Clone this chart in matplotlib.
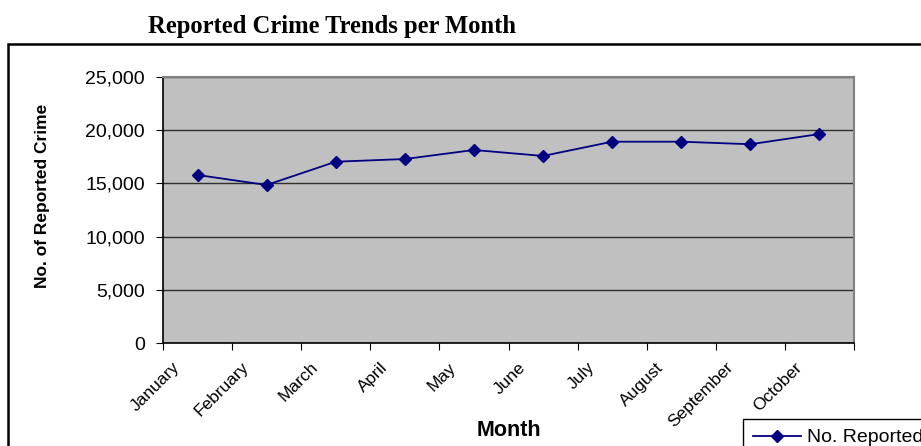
import matplotlib.pyplot as plt
import numpy as np
from matplotlib.patches import Rectangle
from matplotlib.ticker import FuncFormatter
from matplotlib.transforms import ScaledTranslation

# Data
months = ['January', 'February', 'March', 'April', 'May', 'June',
          'July', 'August', 'September', 'October']
reported = [15790, 14850, 17040, 17290, 18140, 17580, 18920, 18920, 18680, 19640]

W, H = 921, 446
fig = plt.figure(figsize=(W / 100, H / 100), dpi=100)
plt.rcParams['font.family'] = ['Liberation Sans', 'DejaVu Sans']

# outer chart border (cropped on right and bottom in the reference)
fig.patches.append(Rectangle((8 / W, -0.1), 1.2, 1 - 44 / H + 0.1,
                             transform=fig.transFigure, fill=False,
                             edgecolor='black', linewidth=1.8))

# title
fig.text(148 / W, 1 - 27 / H, 'Reported Crime Trends per Month',
         family='Liberation Serif', fontweight='bold', fontsize=17.7,
         ha='left', va='center')

# plot area
ax = fig.add_axes([163 / W, 1 - 343 / H, (854 - 163) / W, (343 - 77) / H])
ax.set_facecolor('#c0c0c0')

x = np.arange(len(months)) + 0.5
ax.plot(x, reported, color='#000080', linewidth=1.3, marker='D',
        markersize=6.5, label='No. Reported Crime', zorder=3)

ax.set_xlim(0, len(months))
ax.set_ylim(0, 25000)
ax.set_yticks(np.arange(0, 25001, 5000))
ax.yaxis.set_major_formatter(FuncFormatter(lambda v, p: f'{int(v):,}'))
ax.grid(axis='y', color='#303030', linewidth=1)
ax.set_axisbelow(True)

# category boundaries as ticks
ax.set_xticks(np.arange(0, len(months) + 1))
ax.set_xticklabels([])
ax.tick_params(axis='x', length=5, direction='out', color='black')
ax.tick_params(axis='y', length=5, direction='out', labelsize=14, pad=8)

# rotated month labels, sitting a bit left of each category centre
lab_tr = ax.get_xaxis_transform() + ScaledTranslation(-20 / 100, -22 / 100,
                                                      fig.dpi_scale_trans)
for xi, m in zip(x, months):
    ax.text(xi, 0, m, transform=lab_tr, rotation=45, ha='right', va='center',
            rotation_mode='anchor', fontsize=12.5)

for s in ['top', 'right']:
    ax.spines[s].set_color('#808080')
    ax.spines[s].set_linewidth(1.5)
for s in ['left', 'bottom']:
    ax.spines[s].set_color('black')
    ax.spines[s].set_linewidth(1.2)

fig.text(43 / W, 1 - 196 / H, 'No. of Reported Crime', fontweight='bold',
         fontsize=12.5, rotation=90, ha='center', va='center')
fig.text(509 / W, 1 - 430 / H, 'Month', fontweight='bold', fontsize=15.5,
         ha='center', va='center')

# legend (partly outside the canvas, like the reference)
leg = fig.legend(loc='upper left', bbox_to_anchor=(743 / W, 1 - 419 / H),
                 fontsize=14, frameon=True, fancybox=False, borderpad=0.5,
                 handlelength=2.5, handletextpad=0.3, edgecolor='black',
                 framealpha=1, borderaxespad=0)
leg.get_frame().set_linewidth(1)

plt.savefig('out.png', dpi=100)
